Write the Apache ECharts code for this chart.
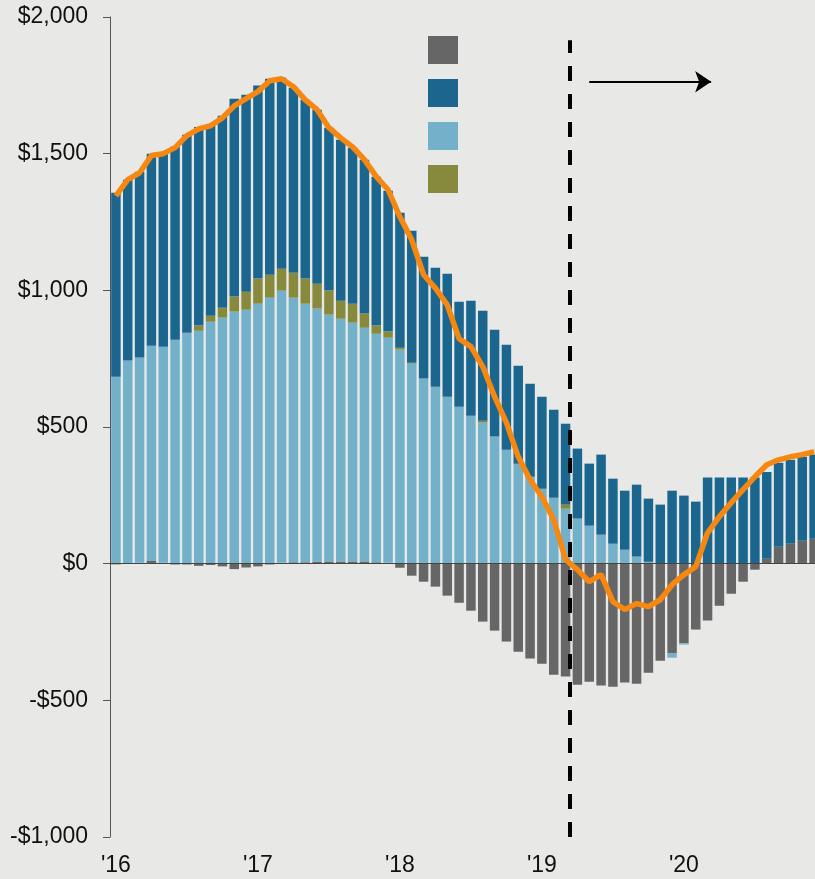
<!DOCTYPE html>
<html>
<head>
<meta charset="utf-8">
<script src="https://cdn.jsdelivr.net/npm/echarts@6/dist/echarts.min.js"></script>
<style>
  html, body { margin: 0; padding: 0; background: #e8e8e6; overflow: hidden; }
  #chart { width: 820px; height: 879px; }
</style>
</head>
<body>
<div id="chart"></div>
<script>
// monthly, Jan '16 - Dec '20
var years = ['2016', '2017', '2018', '2019', '2020'];
var yearLabels = ["'16", "'17", "'18", "'19", "'20"];
var yTicks = [-1000, -500, 0, 500, 1000, 1500, 2000];

var months = [];
years.forEach(function (y) {
  for (var m = 1; m <= 12; m++) {
    months.push(y + '-' + (m < 10 ? '0' + m : m));
  }
});

// stacked components
var grey = [0, 0, 3, 10, 3, -3, -3, -8, -5, -10,
  -20, -14, -10, -3, 3, 5, 5, 7, 8, 8,
  8, 8, 5, 3, -15, -44, -66, -84, -117, -143,
  -172, -212, -245, -285, -322, -347, -366, -406, -413, -443,
  -432, -446, -450, -435, -439, -399, -355, -329, -291, -241,
  -208, -154, -110, -66, -22, 18, 62, 73, 84, 91];

var lightBlue = [684, 743, 751, 787, 791, 819, 845, 852, 885, 900,
  922, 929, 951, 973, 996, 968, 946, 926, 903, 888,
  874, 855, 836, 824, 783, 732, 677, 647, 611, 574,
  541, 516, 465, 417, 366, 318, 274, 241, 201, 165,
  139, 106, 73, 51, 26, 7, 0, -15, -5, 0,
  0, 0, 0, 0, 0, 0, 0, 0, 0, 0];

var olive = [-3, 0, 0, 0, 0, 0, 0, 19, 22, 36,
  55, 66, 92, 84, 80, 91, 92, 91, 88, 66,
  69, 52, 30, 22, 7, 3, 0, 0, 0, 0,
  0, 7, 0, 0, 0, 0, 0, 0, 15, 0,
  0, 0, 0, 0, 0, 0, 0, 0, 0, 0,
  0, 0, 0, 0, 0, 0, 0, 0, 0, 0];

var darkBlue = [673, 662, 680, 703, 709, 706, 724, 727, 699, 703,
  724, 721, 706, 717, 699, 677, 654, 637, 596, 589,
  571, 563, 545, 515, 494, 483, 446, 436, 450, 384,
  421, 402, 391, 384, 358, 340, 337, 322, 296, 256,
  227, 293, 238, 216, 263, 231, 216, 267, 249, 227,
  315, 315, 315, 315, 315, 317, 307, 307, 307, 308];

// orange line
var total = [1346, 1405, 1430, 1493, 1500, 1522, 1566, 1591, 1602, 1631,
  1675, 1701, 1727, 1767, 1774, 1745, 1697, 1661, 1595, 1558,
  1525, 1478, 1416, 1368, 1269, 1185, 1057, 1008, 947, 823,
  794, 721, 611, 516, 391, 307, 245, 161, 15, -22,
  -66, -40, -139, -168, -146, -157, -132, -77, -40, -11,
  113, 172, 223, 271, 318, 362, 380, 391, 399, 410];

// annotations (month position on a 0-60 scale, value)
var dividerAt = 38.85;
var dividerRange = [-1000, 1915];
var arrowFrom = [40.5, 1763];
var arrowTo = [50.8, 1763];

var FONT = 'Liberation Sans';
var chart = echarts.init(document.getElementById('chart'));

var fmtMoney = function (v) {
  var s = '$' + Math.abs(v).toLocaleString('en-US');
  return v < 0 ? '-' + s : s;
};

chart.setOption({
  animation: false,
  backgroundColor: '#e8e8e6',
  grid: { left: 110, right: 0, top: 17, bottom: 42 },
  legend: {
    data: ['Series 1', 'Series 2', 'Series 3', 'Series 4'],
    orient: 'vertical',
    left: 428,
    top: 36,
    padding: 0,
    icon: 'rect',
    itemWidth: 30,
    itemHeight: 28,
    itemGap: 15,
    formatter: function () { return ''; },
    selectedMode: false
  },
  xAxis: [
    {
      type: 'category',
      data: months,
      z: 5,
      axisLine: { onZero: true, lineStyle: { color: '#444', width: 1 } },
      axisTick: {
        length: 6,
        lineStyle: { color: '#444' },
        interval: function (i) { return i % 12 === 0; }
      },
      axisLabel: { show: false }
    },
    {
      type: 'category',
      data: months,
      position: 'bottom',
      axisLine: { show: false, onZero: false },
      axisTick: { show: false },
      axisLabel: {
        interval: 11,
        margin: 17,
        color: '#111',
        fontFamily: FONT,
        fontSize: 23,
        formatter: function (v) {
          return yearLabels[years.indexOf(v.slice(0, 4))];
        }
      }
    },
    { type: 'value', min: 0, max: 60, show: false }
  ],
  yAxis: {
    type: 'value',
    min: yTicks[0],
    max: yTicks[yTicks.length - 1],
    interval: 500,
    splitLine: { show: false },
    axisLine: { show: true, lineStyle: { color: '#555' } },
    axisTick: { show: true, length: 7, lineStyle: { color: '#555' } },
    axisLabel: {
      margin: 22,
      color: '#111',
      fontFamily: FONT,
      fontSize: 23,
      formatter: fmtMoney
    }
  },
  series: [
    {
      name: 'Series 1', type: 'bar', stack: 'a', data: grey,
      barCategoryGap: '20%', itemStyle: { color: '#666666' }
    },
    {
      name: 'Series 3', type: 'bar', stack: 'a', data: lightBlue,
      itemStyle: { color: '#73b1cb' }
    },
    {
      name: 'Series 4', type: 'bar', stack: 'a', data: olive,
      itemStyle: { color: '#878a3d' }
    },
    {
      name: 'Series 2', type: 'bar', stack: 'a', data: darkBlue,
      itemStyle: { color: '#1a668f' }
    },
    {
      name: 'Total', type: 'line', data: total, z: 6,
      symbol: 'none',
      lineStyle: { color: '#f7870f', width: 5.5 },
      itemStyle: { color: '#f7870f' }
    },
    {
      name: 'Notes', type: 'line', xAxisIndex: 2, data: [],
      markLine: {
        silent: true,
        animation: false,
        label: { show: false },
        symbol: 'none',
        data: [
          [
            { coord: [dividerAt, dividerRange[0]], lineStyle: { color: '#000', width: 4, type: [15, 13] } },
            { coord: [dividerAt, dividerRange[1]] }
          ],
          [
            { coord: arrowFrom, symbol: 'none', lineStyle: { color: '#000', width: 2, type: 'solid' } },
            { coord: arrowTo, symbol: 'arrow', symbolSize: [16, 16] }
          ]
        ]
      }
    }
  ]
});
</script>
</body>
</html>
